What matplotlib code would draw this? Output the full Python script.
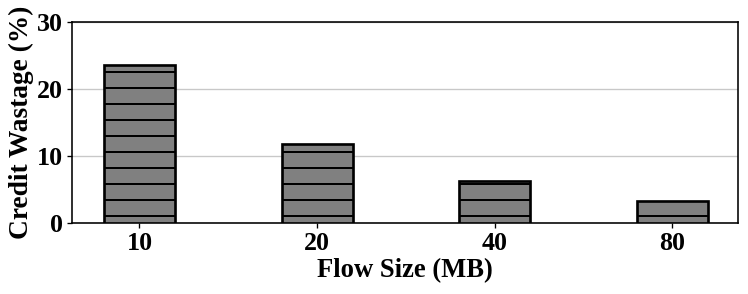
import matplotlib.pyplot as plt
import numpy as np

plt.rcParams['font.family'] = ['Liberation Serif', 'DejaVu Serif']
plt.rcParams['font.weight'] = 'bold'
plt.rcParams['hatch.linewidth'] = 1.5

sizes = ['10', '20', '40', '80']
wastage = [23.6, 11.8, 6.3, 3.3]

W, H, DPI = 748, 294, 96
fig = plt.figure(figsize=(W / DPI, H / DPI), dpi=DPI)
ax = fig.add_axes([72 / W, 1 - 223 / H, (738 - 72) / W, (223 - 22) / H])

x = np.arange(len(sizes))
ax.bar(x, wastage, width=0.4, color='#808080', edgecolor='black', linewidth=2, hatch='-', zorder=3)

ax.set_xlim(-0.38, 3.37)
ax.set_ylim(0, 30)
ax.set_yticks([0, 10, 20, 30])
ax.set_xticks(x, sizes)
ax.yaxis.grid(True, color='#c8c8c8', linewidth=1, zorder=0)
ax.tick_params(labelsize=19.5, length=4, width=1, pad=3)
for s in ax.spines.values():
    s.set_linewidth(1.2)

ax.set_xlabel('Flow Size (MB)', fontsize=20, fontweight='bold', labelpad=2)
ax.set_ylabel('Credit Wastage (%)', fontsize=20.5, fontweight='bold', labelpad=2)

fig.savefig('out.png', dpi=DPI)
